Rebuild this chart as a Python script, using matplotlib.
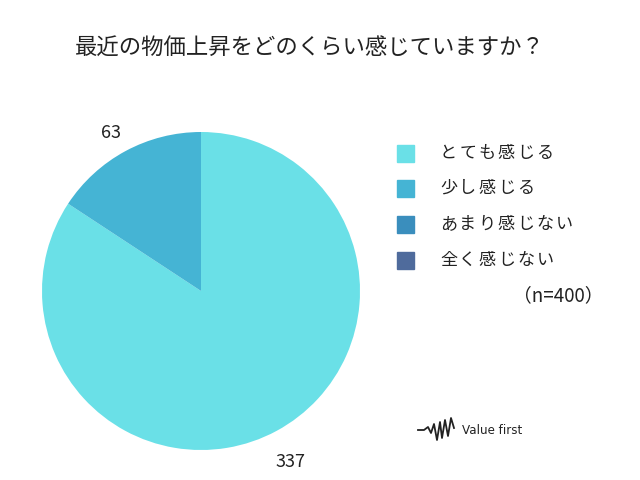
import numpy as np
import matplotlib.pyplot as plt
from matplotlib.patches import Rectangle

plt.rcParams['font.family'] = ['Noto Sans CJK JP', 'DejaVu Sans']

# -------- data --------
title = '最近の物価上昇をどのくらい感じていますか？'
labels = ['とても感じる', '少し感じる', 'あまり感じない', '全く感じない']
counts = [337, 63, 0, 0]
colors = ['#6ae0e7', '#45b4d4', '#3a8ebd', '#4f6b9c']
n_total = 400

fig = plt.figure(figsize=(6.4, 4.8), dpi=100)
W, H = 640, 480

# pie axes: center (201, 291) px, radius ~159 px
cx, cy, r = 201, 291, 160
ax = fig.add_axes([(cx - r) / W, (H - cy - r) / H, 2 * r / W, 2 * r / H])
wedges, _ = ax.pie(counts, colors=colors, startangle=90, counterclock=False,
                   radius=159 / 160)
ax.set_xlim(-1, 1)
ax.set_ylim(-1, 1)
ax.set_aspect('equal')
ax.axis('off')

# value labels outside the wedges
label_pos = {337: (0.56, -1.07), 63: (-0.56, 0.99)}
for c in counts:
    if c == 0:
        continue
    ax.text(label_pos[c][0], label_pos[c][1], str(c), ha='center', va='center',
            fontsize=13, color='#222222', clip_on=False)

fig.text(75 / W, 1 - 48 / H, title, fontsize=16.1, ha='left', va='center', color='#222222')

# legend (characters spaced out like the original)
rows = [153, 188, 224, 260]
pitch = 19.3
for lab, col, y in zip(labels, colors, rows):
    fig.add_artist(Rectangle((397 / W, 1 - (y + 9) / H), 17 / W, 17 / H,
                             transform=fig.transFigure, color=col))
    for k, ch in enumerate(lab):
        fig.text((440 + k * pitch) / W, 1 - y / H, ch, fontsize=12.3,
                 ha='left', va='center', color='#222222')
fig.text(603 / W, 1 - 296 / H, '（n=%d）' % n_total, fontsize=13.5, ha='right',
         va='center', color='#222222')

# logo
lx = [418, 424, 428, 431, 434, 437, 440, 442, 445, 448, 451, 454]
ly = [430, 430, 427, 433, 424, 440, 422, 438, 420, 436, 418, 428]
fig.add_artist(plt.Line2D([x / W for x in lx], [1 - y / H for y in ly],
                          transform=fig.transFigure, color='#222222', lw=1.3))
fig.text(462 / W, 1 - 430 / H, 'Value first', fontsize=8.6, ha='left', va='center',
         color='#222222', family='DejaVu Sans')

fig.savefig('out.png', dpi=100)
